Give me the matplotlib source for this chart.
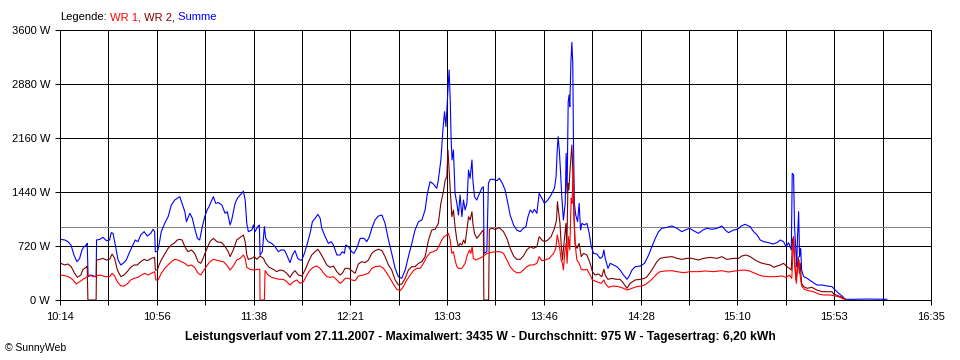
import matplotlib
matplotlib.use("Agg")
import matplotlib.pyplot as plt
import numpy as np

plt.rcParams['font.family'] = ['Liberation Sans', 'DejaVu Sans']

# time in minutes after 10:14, power in W
t_summe = [0.3, 2.1, 3.5, 4.8, 6.1, 7.4, 8.6, 9.6, 10.5, 11.5, 11.9, 12.3, 13.7, 15.2, 15.8, 16.0,
           17.4, 18.8, 20.3, 21.7, 22.4, 23.2, 24.2, 25.4, 26.6, 27.6, 29.0, 30.5, 31.9, 32.9,
           34.1, 35.3, 36.8, 38.2, 39.7, 40.7, 41.4, 41.7, 42.6, 43.3, 44.3, 45.8, 47.3, 48.7,
           50.2, 51.3, 52.4, 53.4, 54.6, 55.3, 56.8, 57.9, 58.9, 60.1, 61.1, 62.1, 63.3, 64.5,
           65.2, 66.4, 67.1, 68.1, 69.3, 70.8, 72.2, 73.2, 74.4, 75.1, 76.6, 77.6, 78.8, 79.5,
           80.2, 81.0, 81.7, 82.4, 83.9, 84.6, 85.3, 86.5, 87.2, 87.5, 88.5, 89.4, 90.0, 91.1,
           92.6, 94.1, 95.5, 96.7, 98.1, 99.2, 100.6, 101.7, 102.8, 104.0, 105.0, 105.8, 106.9,
           108.0, 109.4, 110.4, 111.6, 112.8, 113.8, 114.5, 116.0, 117.4, 118.6, 119.6, 121.1,
           122.5, 123.5, 124.4, 125.0, 126.2, 127.6, 128.6, 129.8, 131.3, 133.0, 134.2, 135.3,
           136.4, 137.8, 139.3, 140.8, 142.2, 143.7, 145.1, 146.6, 148.0, 149.5, 151.0, 152.4,
           153.9, 155.3, 156.8, 158.3, 159.7, 160.7, 161.9, 163.3, 164.8, 165.5, 166.6, 167.5,
           168.2, 168.8, 169.2, 169.8, 170.2, 170.7, 171.1, 171.5, 172.1, 172.8, 173.6, 174.3,
           175.0, 175.8, 176.5, 177.2, 178.0, 178.7, 179.4, 180.2, 180.6, 181.3, 182.3, 183.5,
           184.5, 185.2, 185.5, 186.7, 187.4, 188.2, 189.6, 191.1, 192.2, 193.5, 194.7, 195.9,
           196.9, 198.4, 199.8, 201.3, 202.7, 203.8, 204.7, 205.7, 206.7, 207.5, 208.6, 209.6,
           210.8, 211.9, 213.4, 214.8, 216.3, 217.0, 217.5, 217.9, 218.4, 218.9, 219.5, 220.2,
           221.0, 221.4, 221.8, 222.3, 222.7, 223.0, 223.5, 223.9, 224.3, 224.6, 225.0, 225.6,
           226.4, 227.1, 227.7, 228.3, 229.4, 230.5, 231.5, 232.4, 233.4, 234.8, 236.3, 237.3,
           237.9, 238.5, 239.7, 240.7, 242.1, 243.6, 245.0, 246.5, 248.0, 249.0, 250.2, 251.6,
           253.8, 255.7, 257.5, 258.9, 260.4, 261.8, 263.3, 265.5, 267.7, 269.9, 272.0, 273.5,
           275.4, 277.1, 279.3, 281.2, 283.0, 285.2, 287.4, 289.5, 291.0, 292.4, 294.6, 296.4,
           298.0, 299.7, 301.9, 303.4, 304.9, 306.3, 307.8, 310.0, 311.9, 313.6, 315.1, 316.5,
           317.6, 318.7, 319.9, 320.3, 320.9, 321.3, 321.8, 322.2, 322.6, 323.1, 323.5, 324.0,
           324.4, 325.3, 326.8, 328.9, 331.1, 333.3, 335.5, 337.7, 339.1, 340.6, 342.1, 343.5,
           347.0, 353.1, 361.7]
p_summe = [809, 800, 778, 733, 600, 511, 555, 667, 711, 733, 755, 311, 333, 311, 311, 800,
           809, 835, 791, 800, 898, 889, 733, 533, 467, 489, 533, 644, 733, 800,
           778, 867, 911, 853, 889, 942, 911, 644, 644, 733, 911, 1022, 1111, 1267,
           1333, 1356, 1378, 1289, 1178, 1044, 1156, 1089, 956, 822, 800, 956, 1111, 1209,
           1244, 1333, 1378, 1289, 1298, 1267, 1156, 1178, 1000, 1067, 1289, 1356, 1400, 1422,
           1453, 1333, 1022, 911, 933, 1000, 911, 978, 1000, 600, 644, 978, 822, 778,
           755, 711, 644, 667, 667, 600, 498, 600, 658, 555, 533, 533, 622,
           733, 889, 1044, 1089, 1142, 1089, 956, 844, 755, 778, 733, 600,
           600, 644, 622, 733, 711, 644, 622, 689, 822, 822, 778, 844,
           956, 1067, 1120, 1133, 1022, 800, 622, 422, 311, 289, 400, 578,
           755, 933, 1044, 1067, 1200, 1422, 1578, 1547, 1489, 1600, 1867, 2267,
           2511, 2311, 2533, 2889, 3067, 2667, 2133, 1867, 2000, 1422, 1289, 1133,
           1400, 1111, 1333, 1200, 1289, 1733, 1622, 1867, 1600, 1378, 1333, 1422,
           1489, 1511, 622, 644, 1556, 1609, 1609, 1591, 1622, 1556, 1467, 1289,
           1133, 1000, 933, 911, 956, 978, 1111, 1200, 1164, 1209, 1156, 1422,
           1356, 1289, 1333, 1400, 1489, 1644, 2000, 2178, 2000, 1733, 1378, 1067,
           1289, 1956, 1422, 2644, 2733, 2578, 3178, 3435, 3156, 2133, 1289, 1133,
           1044, 1289, 933, 1022, 1000, 1022, 889, 711, 622, 613, 555, 578,
           667, 555, 422, 489, 467, 444, 400, 333, 276, 320, 400, 444,
           453, 489, 600, 711, 822, 911, 956, 969, 987, 956, 911, 933,
           956, 924, 889, 933, 956, 942, 956, 987, 933, 898, 933, 942,
           987, 1009, 978, 911, 867, 800, 778, 764, 747, 764, 800, 778,
           711, 764, 667, 1689, 1667, 978, 711, 444, 822, 1178, 578, 689,
           400, 311, 289, 244, 200, 200, 187, 178, 133, 89, 53, 9,
           9, 13, 9]

t_wr2 = [0.3, 2.1, 3.5, 4.9, 6.4, 7.6, 9.1, 10.1, 11.5, 11.9, 12.2, 15.8, 16.0, 17.4, 18.8,
         20.3, 21.7, 22.8, 23.9, 25.1, 26.6, 28.0, 29.4, 30.9, 32.4, 33.8, 35.3, 36.8, 38.2,
         40.0, 41.4, 41.7, 42.6, 43.3, 44.3, 45.8, 47.3, 48.7, 50.2, 51.3, 52.4, 53.4, 54.6,
         56.0, 57.5, 58.9, 60.4, 61.6, 62.6, 64.0, 65.6, 67.1, 68.6, 70.8, 72.2, 73.6, 74.4,
         75.8, 77.3, 78.8, 80.2, 81.0, 81.7, 82.4, 83.9, 85.0, 86.1, 87.5, 89.0, 90.0, 91.5,
         93.3, 94.8, 96.3, 97.7, 99.2, 100.6, 101.7, 102.8, 104.3, 105.8, 107.2, 108.7, 110.1,
         111.6, 112.8, 113.8, 115.2, 116.7, 118.1, 119.6, 121.1, 122.5, 123.5, 124.7, 126.2,
         127.6, 129.1, 130.5, 132.0, 133.5, 134.9, 136.4, 137.8, 139.3, 140.8, 142.2, 143.7,
         145.1, 146.6, 148.0, 149.5, 151.0, 152.4, 153.9, 155.3, 156.8, 158.3, 159.7, 161.2,
         162.6, 164.1, 165.5, 166.6, 167.7, 168.5, 169.2, 169.7, 170.2, 170.7, 171.4, 172.1,
         172.8, 173.6, 174.3, 175.0, 175.8, 176.5, 177.2, 178.0, 178.7, 179.4, 180.2, 180.6,
         181.3, 182.3, 183.5, 184.5, 185.2, 185.4, 187.5, 187.8, 188.9, 190.3, 192.2, 194.0,
         195.5, 196.9, 198.4, 199.8, 201.3, 202.7, 204.2, 205.7, 207.1, 208.6, 209.6, 210.8,
         211.9, 213.4, 214.8, 216.3, 217.2, 217.6, 218.0, 218.7, 219.2, 219.8, 220.5, 221.3,
         221.7, 222.2, 222.6, 223.0, 223.5, 223.9, 224.3, 224.8, 225.3, 226.1, 227.1, 228.0,
         229.0, 230.5, 231.9, 232.9, 234.1, 235.5, 237.0, 237.9, 238.5, 239.7, 241.4, 243.2,
         245.0, 246.5, 248.0, 249.4, 251.6, 253.8, 255.7, 256.8, 258.9, 261.1, 262.5, 264.7,
         267.7, 269.9, 272.0, 274.2, 276.4, 279.3, 281.5, 284.4, 287.4, 289.5, 291.7, 294.6,
         296.8, 298.3, 300.2, 301.9, 304.1, 306.3, 308.5, 310.7, 312.2, 313.6, 315.1, 316.5,
         318.0, 319.1, 319.9, 320.4, 320.9, 321.3, 321.9, 322.4, 322.9, 323.4, 323.8, 324.4,
         325.3, 326.8, 328.9, 331.1, 333.3, 335.5, 337.7, 338.4, 340.6, 342.1, 343.5]
p_wr2 = [489, 467, 480, 444, 356, 302, 333, 409, 436, 453, 0, 0, 533, 542, 555,
         533, 542, 613, 555, 400, 311, 333, 378, 436, 467, 467, 511, 542, 524,
         555, 569, 400, 400, 467, 533, 613, 689, 733, 764, 800, 809, 800, 711,
         644, 667, 622, 511, 489, 555, 667, 778, 822, 778, 764, 711, 644, 578,
         667, 800, 835, 867, 778, 600, 542, 555, 578, 542, 587, 555, 489, 436,
         409, 378, 400, 391, 356, 302, 356, 391, 333, 320, 400, 511, 600,
         644, 676, 631, 555, 467, 436, 453, 378, 333, 356, 422, 422,
         391, 356, 480, 511, 498, 533, 622, 658, 676, 658, 578, 467,
         400, 267, 200, 213, 289, 400, 444, 444, 489, 511, 578, 800,
         933, 942, 1022, 1289, 1444, 1600, 1644, 2000, 1733, 1467, 1111, 1200,
         978, 800, 711, 755, 733, 800, 755, 933, 1111, 1067, 1178, 1022,
         889, 822, 867, 911, 933, 0, 0, 942, 956, 942, 964, 911,
         822, 689, 587, 542, 542, 587, 667, 711, 689, 711, 844, 800,
         778, 800, 844, 956, 1067, 1311, 1200, 1022, 755, 533, 755, 1022,
         711, 1556, 1467, 1689, 1911, 2067, 1733, 1111, 755, 689, 755, 578,
         622, 600, 489, 378, 333, 347, 311, 409, 333, 276, 289, 276,
         276, 222, 156, 222, 267, 276, 289, 311, 400, 511, 555, 569,
         578, 555, 542, 555, 555, 533, 555, 569, 555, 578, 542, 555,
         555, 587, 600, 578, 533, 498, 480, 467, 436, 453, 467, 489,
         444, 422, 400, 800, 844, 533, 267, 400, 578, 356, 489, 222,
         178, 156, 169, 133, 111, 111, 111, 80, 53, 36, 9]

t_wr1 = [0.3, 2.8, 4.2, 5.7, 7.1, 8.6, 10.1, 11.5, 13.0, 14.4, 16.0, 17.4, 18.8, 20.3, 21.7,
         22.8, 23.9, 25.1, 26.6, 28.0, 29.4, 30.9, 32.4, 34.1, 35.6, 37.1, 38.5, 40.0, 41.4,
         41.9, 42.9, 44.3, 45.8, 47.3, 48.7, 50.2, 51.6, 53.1, 54.6, 56.0, 57.5, 58.9, 60.4,
         61.6, 63.0, 64.5, 65.6, 67.1, 69.3, 71.5, 72.9, 74.4, 75.8, 77.3, 78.8, 80.2, 81.0,
         81.7, 83.1, 84.6, 86.8, 87.4, 87.5, 89.4, 89.7, 91.1, 92.6, 94.1, 95.8, 97.7, 99.2,
         100.6, 102.1, 103.6, 105.0, 106.5, 108.0, 109.4, 110.8, 112.3, 113.8, 115.2, 116.7,
         118.1, 119.6, 121.1, 122.5, 123.5, 124.7, 126.2, 127.6, 129.1, 130.5, 132.7, 134.9,
         136.4, 137.8, 140.0, 141.5, 143.0, 144.4, 145.8, 147.3, 148.8, 150.2, 151.7, 153.2,
         154.6, 156.1, 157.5, 159.0, 160.5, 161.9, 163.3, 164.8, 166.0, 167.0, 168.0, 169.2,
         169.9, 170.7, 171.4, 172.1, 172.8, 173.6, 174.3, 175.8, 177.2, 178.2, 179.1, 179.7,
         180.3, 180.8, 182.0, 183.5, 185.0, 186.7, 188.2, 190.3, 192.5, 194.0, 195.5, 196.9,
         198.4, 199.8, 201.3, 202.7, 204.2, 205.7, 207.1, 208.6, 209.6, 210.8, 212.2, 214.0,
         215.9, 216.9, 217.5, 218.0, 218.7, 219.2, 219.8, 220.2, 220.9, 221.4, 221.8, 222.4,
         223.0, 223.6, 224.0, 224.5, 224.9, 225.3, 226.1, 227.1, 228.0, 229.0, 230.5, 231.9,
         232.9, 234.8, 236.7, 237.9, 238.5, 239.9, 242.1, 244.3, 246.5, 248.0, 250.2, 252.3,
         254.5, 255.7, 256.8, 258.9, 261.1, 262.5, 264.7, 267.7, 269.9, 272.7, 275.7, 279.3,
         282.2, 285.9, 289.5, 292.4, 296.1, 299.0, 301.2, 304.1, 307.0, 309.9, 312.9, 315.8,
         317.7, 319.1, 320.1, 320.9, 321.5, 322.1, 322.6, 323.3, 323.8, 324.4, 325.6, 327.4,
         329.6, 331.8, 334.0, 336.9, 339.1, 340.6, 342.1, 343.5]
p_wr1 = [333, 320, 302, 267, 213, 244, 276, 302, 333, 311, 320, 333, 320, 311, 311,
         356, 320, 244, 187, 187, 213, 267, 289, 302, 333, 356, 333, 356, 378,
         267, 267, 356, 422, 467, 511, 542, 533, 511, 489, 453, 467, 436, 356,
         333, 400, 467, 511, 542, 524, 511, 467, 400, 453, 533, 555, 600, 555,
         436, 409, 400, 409, 409, 0, 0, 391, 333, 302, 289, 276, 276, 244,
         200, 244, 267, 222, 244, 333, 400, 436, 453, 422, 364, 311,
         302, 311, 267, 222, 244, 289, 289, 267, 258, 320, 333, 356,
         422, 444, 453, 422, 356, 289, 213, 142, 124, 178, 267, 333,
         391, 422, 422, 489, 578, 631, 644, 667, 733, 800, 844, 867,
         889, 800, 622, 644, 533, 444, 422, 422, 489, 600, 667, 622,
         711, 555, 533, 555, 578, 622, 631, 644, 644, 622, 533, 444,
         391, 364, 364, 400, 444, 467, 467, 489, 578, 524, 533, 555,
         622, 689, 867, 800, 667, 533, 489, 400, 667, 755, 489, 844,
         667, 1356, 1289, 1778, 1111, 755, 533, 489, 409, 400, 409, 333,
         267, 244, 222, 267, 222, 169, 187, 178, 156, 133, 156, 178,
         187, 200, 222, 276, 347, 378, 387, 391, 378, 364, 378, 378,
         387, 378, 391, 373, 391, 400, 391, 356, 320, 311, 311, 320,
         302, 333, 289, 820, 444, 222, 400, 533, 311, 187, 142, 124,
         111, 80, 67, 67, 53, 44, 22, 9]

avg_w = 975
span = 381  # 10:14 .. 16:35
x_labels = ["10:14", "10:56", "11:38", "12:21", "13:03", "13:46", "14:28", "15:10", "15:53", "16:35"]
y_ticks = [0, 720, 1440, 2160, 2880, 3600]
y_labels = ["0 W", "720 W", "1440 W", "2160 W", "2880 W", "3600 W"]

px = 0.72  # one pixel in points at 100 dpi

fig = plt.figure(figsize=(9.6, 3.6), dpi=100)
ax = fig.add_axes([60 / 960, 60 / 360, 871 / 960, 270 / 360])
ax.set_xlim(0, span)
ax.set_ylim(0, 3600)

grid = np.linspace(0, span, 19)
ax.set_xticks(grid[::2], x_labels)
ax.set_xticks(grid[1::2], minor=True)
ax.set_yticks(y_ticks, y_labels)
ax.tick_params(axis='both', which='both', length=5 * px, width=px, color='black',
               labelsize=8, direction='out')
ax.tick_params(axis='x', which='major', pad=5)
ax.tick_params(axis='y', pad=3.5)
ax.grid(True, which='both', color='black', linewidth=px)
ax.set_axisbelow(True)
for s in ax.spines.values():
    s.set_linewidth(px)
    s.set_color('black')

ax.axhline(avg_w, color='#808080', linewidth=px, zorder=1.5)
ax.plot(t_summe, p_summe, color='#0000ff', linewidth=0.8, zorder=2)
ax.plot(t_wr2, p_wr2, color='#800000', linewidth=0.8, zorder=3)
ax.plot(t_wr1, p_wr1, color='#ff0000', linewidth=0.8, zorder=4)

# coloured legend line above the plot
renderer = fig.canvas.get_renderer()
xpos = 60 / 960
for txt, col in [("Legende:", "black"), (" WR 1,", "#ff0000"), (" WR 2,", "#800000"), (" Summe", "#0000ff")]:
    t = fig.text(xpos, 1 - 17 / 360, txt, color=col, fontsize=8, va='center', ha='left')
    bb = t.get_window_extent(renderer)
    xpos = bb.x1 / fig.bbox.width

fig.text(480 / 960, 1 - 337 / 360,
         "Leistungsverlauf vom 27.11.2007 - Maximalwert: 3435 W - Durchschnitt: 975 W - Tagesertrag: 6,20 kWh",
         fontsize=8.7, fontweight='bold', ha='center', va='center')
fig.text(5 / 960, 1 - 348 / 360, "\u00a9 SunnyWeb", fontsize=7.5, ha='left', va='center')

fig.savefig("out.png", dpi=100)
